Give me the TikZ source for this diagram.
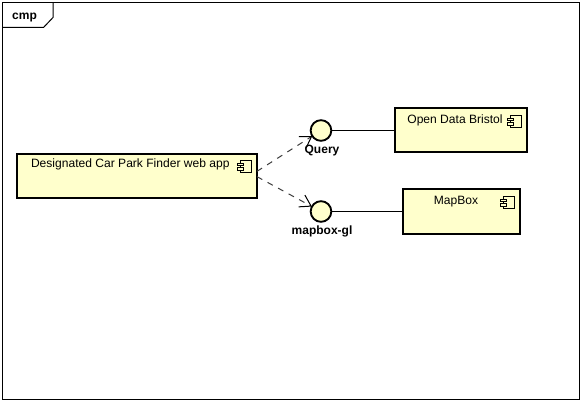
\documentclass[tikz,border=0pt]{standalone}
\usepackage{fontspec}
\setmainfont{Liberation Sans}
\usetikzlibrary{arrows.meta}
\tikzset{
  x=0.75pt,y=-0.75pt,
  frameline/.style={draw=black,line width=0.75pt},
  compbox/.style={draw=black,fill=compfill,line width=1.5pt,inner sep=0pt,outer sep=0pt,rectangle},
  iface/.style={circle,draw=black,fill=compfill,line width=1.4pt,minimum size=15.5pt,inner sep=0pt,outer sep=0pt},
  thin line/.style={draw=black,line width=0.75pt},
  dep/.style={draw=depgray,line width=0.75pt,dash pattern=on 4.5pt off 4.5pt,-{Straight Barb[length=8pt,width=10pt,line width=0.75pt,color=black]}},
  boxtext/.style={font=\fontsize{9.05pt}{10pt}\selectfont,inner sep=0pt,anchor=center},
  boldtext/.style={font=\fontsize{9pt}{10pt}\selectfont\bfseries,inner sep=0pt,anchor=center},
  pics/compicon/.style={code={
    \draw[black,line width=0.75pt,fill=compfill] (3,0) rectangle (14,12);
    \draw[black,line width=0.75pt,fill=compfill] (0,3) rectangle (6,5.5);
    \draw[black,line width=0.75pt,fill=compfill] (0,7.5) rectangle (6,10);
  }}
}
\definecolor{compfill}{RGB}{255,255,204}
\definecolor{depgray}{RGB}{60,60,60}
\begin{document}
\begin{tikzpicture}
\useasboundingbox (0,0) rectangle (582,402);
\fill[white] (0,0) rectangle (582,402);
\draw[frameline] (2.5,2.5) rectangle (579.5,399.5);
\draw[frameline] (2.5,27.5) -- (43.5,27.5) -- (53,17.5) -- (53,2.5);
\node[boldtext] (cmpl) at (24.5,17.5) {cmp};

\node[compbox,minimum width=180pt,minimum height=33pt] (app) at (137,176) {};
\node[compbox,minimum width=99pt,minimum height=33pt] (odb) at (461,130.5) {};
\node[compbox,minimum width=88pt,minimum height=33.5pt] (mbx) at (461.7,211.6) {};

\node[boxtext] (appl) at (130.3,164.5) {Designated Car Park Finder web app};
\node[boxtext] (odbl) at (455,120.5) {Open Data Bristol};
\node[boxtext] (mbxl) at (456,201.5) {MapBox};

\pic at (237.5,160.5) {compicon};
\pic at (507.5,115.5) {compicon};
\pic at (500,196.5) {compicon};

\node[iface] (query) at (321,130.5) {};
\node[iface] (mgl) at (321,211.5) {};
\node[boldtext] (queryl) at (322,150.5) {Query};
\node[boldtext] (mgll) at (322,231.5) {mapbox-gl};

\draw[thin line] (query) -- (query-|odb.west);
\draw[thin line] (mgl) -- (mgl-|mbx.west);
\draw[dep] ([yshift=3.5pt]app.east) -- (query);
\draw[dep] ([yshift=-0.5pt]app.east) -- (mgl);
\end{tikzpicture}
\end{document}
